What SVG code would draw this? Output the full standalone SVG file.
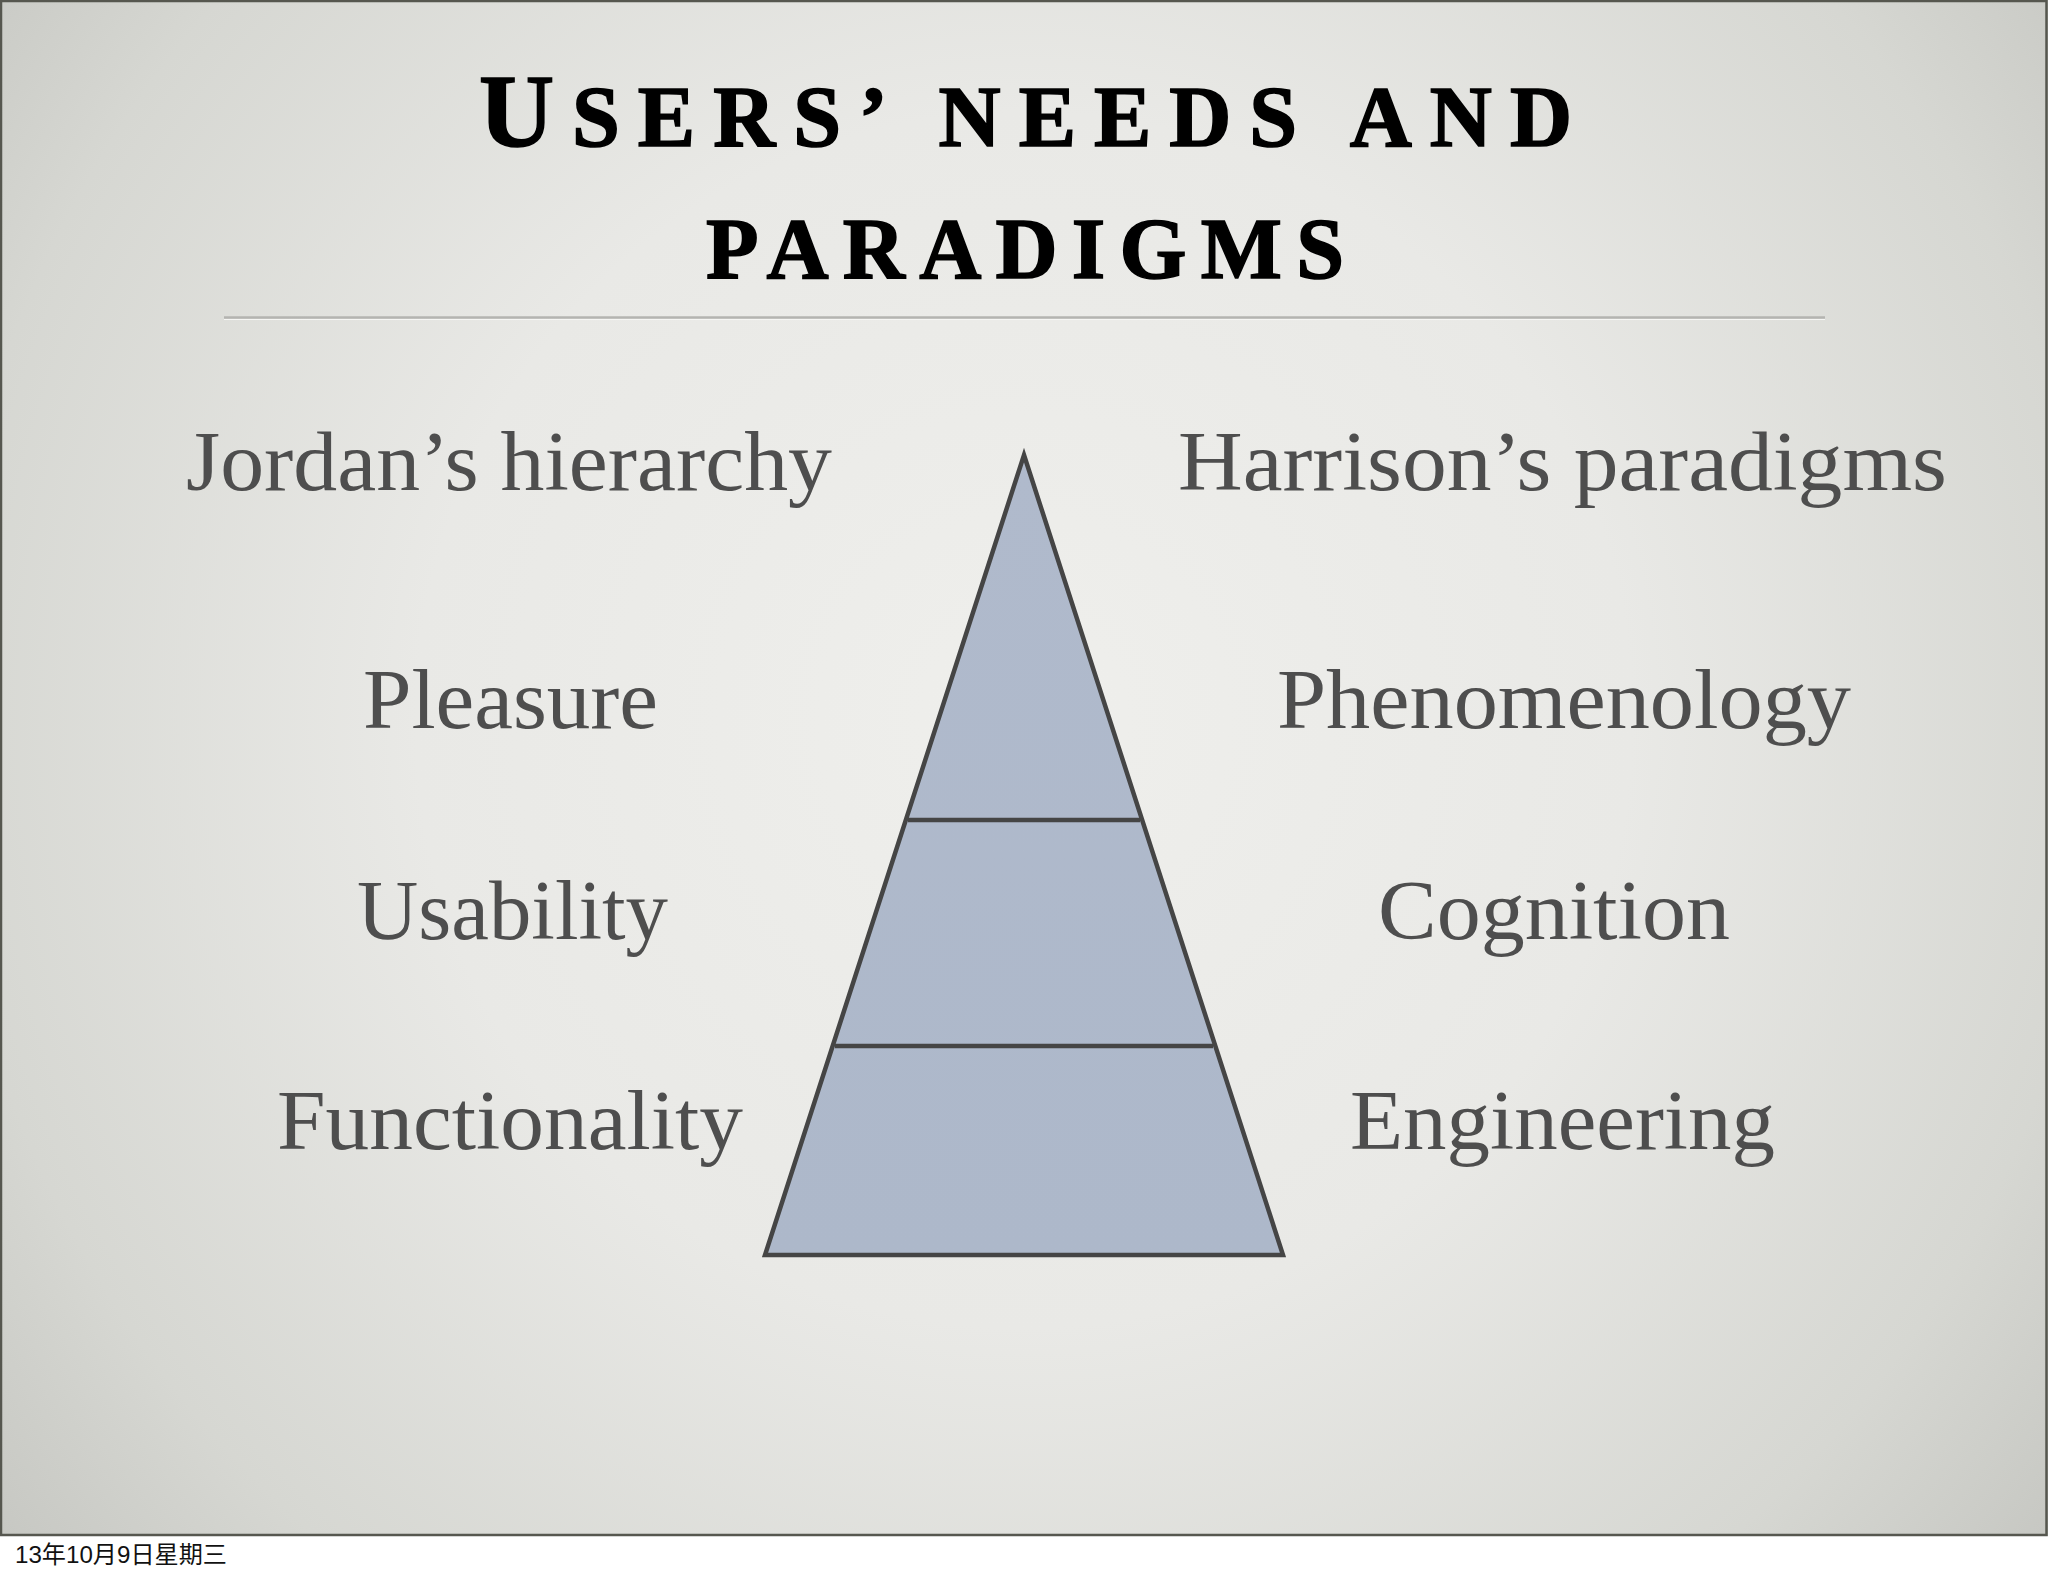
<svg xmlns="http://www.w3.org/2000/svg" width="2048" height="1576" viewBox="0 0 2048 1576">
  <defs>
    <radialGradient id="bg" cx="1024" cy="720" r="1350" gradientUnits="userSpaceOnUse">
      <stop offset="0" stop-color="#efefec"/>
      <stop offset="0.45" stop-color="#e9e9e6"/>
      <stop offset="0.8" stop-color="#d6d7d2"/>
      <stop offset="1" stop-color="#c4c5c0"/>
    </radialGradient>
    <linearGradient id="pyr" x1="0" y1="0" x2="0" y2="1">
      <stop offset="0" stop-color="#b0bacc"/>
      <stop offset="1" stop-color="#adb8ca"/>
    </linearGradient>
  </defs>
  <style>
    .title { font-family: "Liberation Serif", "DejaVu Serif", serif; font-weight: bold; fill: #000000; stroke: #000000; stroke-width: 1.6; }
    .label { font-family: "Liberation Serif", "DejaVu Serif", serif; font-size: 84px; fill: #4e4e4e; }
    .edge { stroke: #454545; stroke-width: 4.5; fill: none; }
    .date { font-family: "Liberation Sans", "Noto Sans CJK SC", sans-serif; font-size: 24px; fill: #111111; }
  </style>

  <!-- page -->
  <rect x="0" y="0" width="2048" height="1576" fill="#ffffff"/>
  <rect x="0" y="0" width="2048" height="1536" fill="url(#bg)"/>
  <path d="M1,1536 V1 H2046.5 V1535 H0" fill="none" stroke="#56574f" stroke-width="2.5"/>

  <!-- title -->
  <g id="title">
    <text class="title" x="479" y="146" textLength="1093" lengthAdjust="spacing"><tspan font-size="104">U</tspan><tspan font-size="86">SERS’ NEEDS AND</tspan></text>
    <text class="title" x="706" y="278" font-size="86" textLength="638" lengthAdjust="spacing">PARADIGMS</text>
  </g>
  <g id="rule">
    <line x1="224" y1="317.5" x2="1825" y2="317.5" stroke="#b4b4b1" stroke-width="2.5"/>
    <line x1="224" y1="319.5" x2="1825" y2="319.5" stroke="#f6f6f4" stroke-width="1"/>
  </g>

  <!-- column headers -->
  <g id="jordan"><text class="label" x="186" y="490" textLength="646" lengthAdjust="spacingAndGlyphs">Jordan’s hierarchy</text></g>
  <g id="harrison"><text class="label" x="1178" y="490" textLength="769" lengthAdjust="spacingAndGlyphs">Harrison’s paradigms</text></g>

  <!-- left column -->
  <g id="pleasure"><text class="label" x="363" y="728" textLength="295" lengthAdjust="spacingAndGlyphs">Pleasure</text></g>
  <g id="usability"><text class="label" x="357" y="939" textLength="311" lengthAdjust="spacingAndGlyphs">Usability</text></g>
  <g id="functionality"><text class="label" x="277" y="1149" textLength="466" lengthAdjust="spacingAndGlyphs">Functionality</text></g>

  <!-- right column -->
  <g id="phenomenology"><text class="label" x="1277" y="728" textLength="574" lengthAdjust="spacingAndGlyphs">Phenomenology</text></g>
  <g id="cognition"><text class="label" x="1378" y="939" textLength="352" lengthAdjust="spacingAndGlyphs">Cognition</text></g>
  <g id="engineering"><text class="label" x="1350" y="1149" textLength="425" lengthAdjust="spacingAndGlyphs">Engineering</text></g>

  <!-- pyramid -->
  <g id="pyramid">
    <polygon points="1024,455 1283,1255 765,1255" fill="url(#pyr)" stroke="#454545" stroke-width="4.5" stroke-linejoin="miter"/>
  </g>
  <g id="connectors">
    <line class="edge" x1="908" y1="820" x2="1140" y2="820"/>
    <line class="edge" x1="835" y1="1046" x2="1213" y2="1046"/>
  </g>

  <!-- footer date -->
  <g id="date"><text class="date" x="15" y="1563" textLength="212" lengthAdjust="spacingAndGlyphs">13年10月9日星期三</text></g>
</svg>
